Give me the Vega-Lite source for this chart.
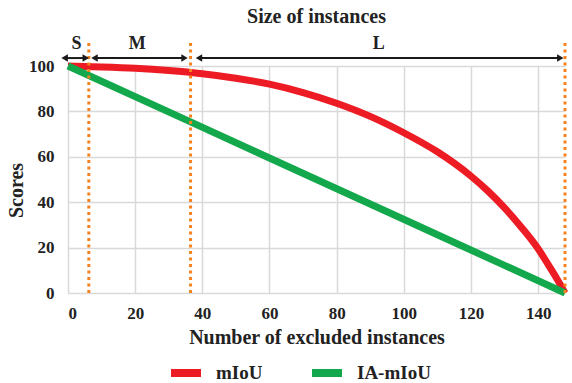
{
  "$schema": "https://vega.github.io/schema/vega-lite/v6.json",
  "autosize": {"type": "none"},
  "width": 497,
  "height": 227,
  "padding": {"left": 68, "top": 66, "right": 7, "bottom": 90},
  "background": "white",
  "title": {
    "text": "Size of instances",
    "font": "Liberation Serif",
    "fontSize": 20,
    "fontWeight": "bold",
    "color": "#222222",
    "offset": 8
  },
  "config": {
    "view": {"stroke": null},
    "font": "Liberation Serif"
  },
  "datasets": {
    "scores": [
      {"x": 0, "score": 100, "metric": "mIoU"},
      {"x": 10, "score": 99.6, "metric": "mIoU"},
      {"x": 20, "score": 99.0, "metric": "mIoU"},
      {"x": 30, "score": 98.0, "metric": "mIoU"},
      {"x": 40, "score": 96.6, "metric": "mIoU"},
      {"x": 50, "score": 94.6, "metric": "mIoU"},
      {"x": 60, "score": 92.0, "metric": "mIoU"},
      {"x": 70, "score": 88.3, "metric": "mIoU"},
      {"x": 80, "score": 83.6, "metric": "mIoU"},
      {"x": 90, "score": 77.8, "metric": "mIoU"},
      {"x": 100, "score": 70.6, "metric": "mIoU"},
      {"x": 110, "score": 62.2, "metric": "mIoU"},
      {"x": 120, "score": 51.5, "metric": "mIoU"},
      {"x": 125, "score": 45.0, "metric": "mIoU"},
      {"x": 130, "score": 37.5, "metric": "mIoU"},
      {"x": 135, "score": 29.0, "metric": "mIoU"},
      {"x": 140, "score": 19.5, "metric": "mIoU"},
      {"x": 143, "score": 12.5, "metric": "mIoU"},
      {"x": 145.5, "score": 6.5, "metric": "mIoU"},
      {"x": 148, "score": 0, "metric": "mIoU"},
      {"x": 0, "score": 100, "metric": "IA-mIoU"},
      {"x": 36, "score": 75.7, "metric": "IA-mIoU"},
      {"x": 74, "score": 50.0, "metric": "IA-mIoU"},
      {"x": 111, "score": 25.0, "metric": "IA-mIoU"},
      {"x": 148, "score": 0, "metric": "IA-mIoU"}
    ],
    "bounds": [
      {"x": 6.2, "y0": 0, "y1": 111.5},
      {"x": 36.5, "y0": 0, "y1": 111.5},
      {"x": 148, "y0": 0, "y1": 111.5}
    ],
    "arrows": [
      {"label": "S", "x1": -1.0, "x2": 5.3, "y": 103.5, "lx": 2.5, "ly": 109.6},
      {"label": "M", "x1": 7.9, "x2": 34.7, "y": 103.5, "lx": 20.6, "ly": 109.6},
      {"label": "L", "x1": 39.0, "x2": 146.6, "y": 103.5, "lx": 92.5, "ly": 109.6}
    ]
  },
  "layer": [
    {
      "data": {"name": "scores"},
      "mark": {"type": "line", "strokeWidth": 7, "interpolate": "monotone", "clip": false},
      "encoding": {
        "x": {
          "field": "x", "type": "quantitative",
          "scale": {"domain": [0, 148], "nice": false},
          "axis": {
            "values": [0, 20, 40, 60, 80, 100, 120, 140],
            "title": "Number of excluded instances",
            "grid": true, "gridColor": "#d9d9d9", "gridWidth": 1.5,
            "domain": false, "ticks": false,
            "labelFont": "Liberation Serif", "labelFontSize": 17, "labelFontWeight": "bold", "labelColor": "#222222",
            "labelPadding": 12,
            "titleFont": "Liberation Serif", "titleFontSize": 20, "titleFontWeight": "bold", "titleColor": "#222222",
            "titlePadding": 6
          }
        },
        "y": {
          "field": "score", "type": "quantitative",
          "scale": {"domain": [0, 100], "nice": false},
          "axis": {
            "values": [0, 20, 40, 60, 80, 100],
            "title": "Scores",
            "grid": true, "gridColor": "#d9d9d9", "gridWidth": 1.5,
            "domain": false, "ticks": false,
            "labelFont": "Liberation Serif", "labelFontSize": 17, "labelFontWeight": "bold", "labelColor": "#222222",
            "labelPadding": 14,
            "titleFont": "Liberation Serif", "titleFontSize": 20, "titleFontWeight": "bold", "titleColor": "#222222",
            "titlePadding": 2,
            "titleY": 124
          }
        },
        "color": {
          "field": "metric", "type": "nominal",
          "scale": {"domain": ["mIoU", "IA-mIoU"], "range": ["#ed1c24", "#13a84b"]},
          "legend": {
            "title": null,
            "orient": "none",
            "direction": "horizontal",
            "legendX": 99,
            "legendY": 288,
            "symbolType": "stroke",
            "symbolSize": 900,
            "symbolStrokeWidth": 8,
            "labelFont": "Liberation Serif", "labelFontSize": 19, "labelFontWeight": "bold", "labelColor": "#222222",
            "labelOffset": 11,
            "columnPadding": 33
          }
        }
      }
    },
    {
      "data": {"name": "bounds"},
      "mark": {"type": "rule", "color": "#f5821f", "strokeWidth": 3, "strokeDash": [3, 3.5], "clip": false},
      "encoding": {
        "x": {"field": "x", "type": "quantitative"},
        "y": {"field": "y0", "type": "quantitative"},
        "y2": {"field": "y1"}
      }
    },
    {
      "data": {"name": "arrows"},
      "mark": {"type": "rule", "color": "#1a1a1a", "strokeWidth": 2, "clip": false},
      "encoding": {
        "x": {"field": "x1", "type": "quantitative"},
        "x2": {"field": "x2"},
        "y": {"field": "y", "type": "quantitative"}
      }
    },
    {
      "data": {"name": "arrows"},
      "mark": {"type": "point", "shape": "triangle-left", "filled": true, "color": "#1a1a1a", "size": 55, "opacity": 1, "clip": false},
      "encoding": {
        "x": {"field": "x1", "type": "quantitative"},
        "y": {"field": "y", "type": "quantitative"}
      }
    },
    {
      "data": {"name": "arrows"},
      "mark": {"type": "point", "shape": "triangle-right", "filled": true, "color": "#1a1a1a", "size": 55, "opacity": 1, "clip": false},
      "encoding": {
        "x": {"field": "x2", "type": "quantitative"},
        "y": {"field": "y", "type": "quantitative"}
      }
    },
    {
      "data": {"name": "arrows"},
      "mark": {"type": "text", "font": "Liberation Serif", "fontSize": 18, "fontWeight": "bold", "color": "#222222", "baseline": "middle", "clip": false},
      "encoding": {
        "x": {"field": "lx", "type": "quantitative"},
        "y": {"field": "ly", "type": "quantitative"},
        "text": {"field": "label"}
      }
    }
  ]
}
